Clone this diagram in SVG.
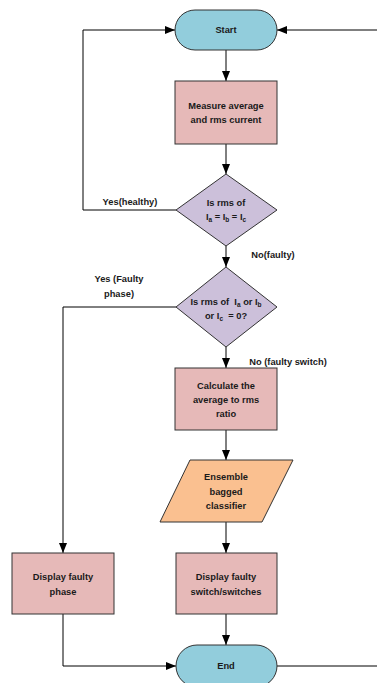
<svg xmlns="http://www.w3.org/2000/svg" width="377" height="683" viewBox="0 0 377 683">
<defs>
<marker id="ah" markerWidth="10" markerHeight="10" refX="10" refY="5" orient="auto" markerUnits="userSpaceOnUse">
<path d="M0,1 L10,5 L0,9 Z" fill="#000"/>
</marker>
<style>
.t{font-family:"Liberation Sans",Arial,sans-serif;font-weight:bold;font-size:9.3px;fill:#1a1a1a;text-anchor:middle;white-space:pre}
.s{font-size:6.5px}
.term{fill:#92CDDC;stroke:#333;stroke-width:1}
.proc{fill:#E6B9B8;stroke:#333;stroke-width:1}
.dec{fill:#CCC0DA;stroke:#333;stroke-width:1}
.io{fill:#FAC090;stroke:#333;stroke-width:1}
.c{fill:none;stroke:#000;stroke-width:1}
.ca{fill:none;stroke:#000;stroke-width:1;marker-end:url(#ah)}
</style>
</defs>
<rect width="377" height="683" fill="#fff"/>
<g id="connectors">
<path class="ca" d="M377,30 H277"/>
<path class="ca" d="M176,210 H83 V30 H175"/>
<path class="ca" d="M226,50 V81"/>
<path class="ca" d="M226,144 V174"/>
<path class="ca" d="M226,246 V267"/>
<path class="ca" d="M226,347 V368"/>
<path class="ca" d="M176,307 H63 V553"/>
<path class="ca" d="M226,430 V460"/>
<path class="ca" d="M226,522 V553"/>
<path class="ca" d="M226,614 V645"/>
<path class="ca" d="M63,614 V666 H176"/>
<path class="c" d="M277,666 H377"/>
<text class="t" x="130" y="205">Yes(healthy)</text>
<text class="t" x="273" y="258">No(faulty)</text>
<text class="t" x="119" y="282">Yes (Faulty</text>
<text class="t" x="119" y="297">phase)</text>
<text class="t" x="288" y="365">No (faulty switch)</text>
</g>
<g id="start">
<rect class="term" x="175" y="10" width="102" height="40" rx="20"/>
<text class="t" x="226" y="33">Start</text>
</g>
<g id="measure">
<rect class="proc" x="175" y="81" width="102" height="63"/>
<text class="t" x="226" y="109">Measure average</text>
<text class="t" x="226" y="123">and rms current</text>
</g>
<g id="decision1">
<polygon class="dec" points="226,174 277,210 226,246 176,210"/>
<text class="t" x="226" y="206">Is rms of</text>
<text class="t" x="226" y="220">I<tspan class="s" dy="2">a</tspan><tspan dy="-2"> = I</tspan><tspan class="s" dy="2">b</tspan><tspan dy="-2"> = I</tspan><tspan class="s" dy="2">c</tspan></text>
</g>
<g id="decision2">
<polygon class="dec" points="226,267 277,307 226,347 176,307"/>
<text class="t" x="226" y="305">Is rms of  I<tspan class="s" dy="2">a</tspan><tspan dy="-2"> or I</tspan><tspan class="s" dy="2">b</tspan></text>
<text class="t" x="226" y="319">or I<tspan class="s" dy="2">c</tspan><tspan dy="-2">  = 0?</tspan></text>
</g>
<g id="calculate">
<rect class="proc" x="175" y="368" width="102" height="62"/>
<text class="t" x="226" y="389">Calculate the</text>
<text class="t" x="226" y="403">average to rms</text>
<text class="t" x="226" y="417">ratio</text>
</g>
<g id="classifier">
<polygon class="io" points="190,460 293,460 262,522 160,522"/>
<text class="t" x="226" y="480">Ensemble</text>
<text class="t" x="226" y="495">bagged</text>
<text class="t" x="226" y="509">classifier</text>
</g>
<g id="display-phase">
<rect class="proc" x="12" y="553" width="102" height="61"/>
<text class="t" x="63" y="580">Display faulty</text>
<text class="t" x="63" y="595">phase</text>
</g>
<g id="display-switch">
<rect class="proc" x="176" y="553" width="101" height="61"/>
<text class="t" x="226" y="580">Display faulty</text>
<text class="t" x="226" y="595">switch/switches</text>
</g>
<g id="end">
<rect class="term" x="176" y="645" width="101" height="42" rx="21"/>
<text class="t" x="226" y="669">End</text>
</g>
</svg>
